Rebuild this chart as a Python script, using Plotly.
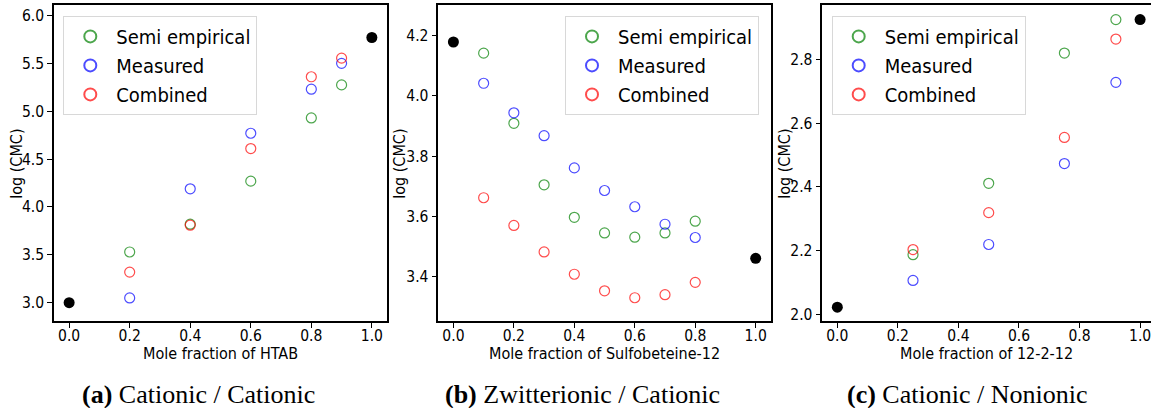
import plotly.graph_objects as go

# ---------------- data ----------------
# Panel (a) Cationic / Cationic
a_x = [0.2, 0.4, 0.6, 0.8, 0.9]
a_semi = [3.53, 3.82, 4.27, 4.93, 5.275]
a_meas = [3.05, 4.19, 4.77, 5.23, 5.50]
a_comb = [3.32, 3.81, 4.61, 5.36, 5.555]
a_pure_x = [0.0, 1.0]
a_pure_y = [3.0, 5.77]

# Panel (b) Zwitterionic / Cationic
b_x = [0.1, 0.2, 0.3, 0.4, 0.5, 0.6, 0.7, 0.8]
b_semi = [4.142, 3.909, 3.705, 3.597, 3.545, 3.531, 3.545, 3.584]
b_meas = [4.042, 3.944, 3.868, 3.761, 3.686, 3.632, 3.574, 3.530]
b_comb = [3.662, 3.570, 3.482, 3.408, 3.353, 3.330, 3.340, 3.381]
b_pure_x = [0.0, 1.0]
b_pure_y = [4.179, 3.461]

# Panel (c) Cationic / Nonionic
c_x = [0.25, 0.5, 0.75, 0.92]
c_semi = [2.187, 2.411, 2.820, 2.925]
c_meas = [2.106, 2.219, 2.473, 2.728]
c_comb = [2.203, 2.319, 2.555, 2.864]
c_pure_x = [0.0, 1.0]
c_pure_y = [2.022, 2.925]

x_ticks = [0.0, 0.2, 0.4, 0.6, 0.8, 1.0]
a_yticks = [3.0, 3.5, 4.0, 4.5, 5.0, 5.5, 6.0]
b_yticks = [3.4, 3.6, 3.8, 4.0, 4.2]
c_yticks = [2.0, 2.2, 2.4, 2.6, 2.8]

x_titles = ["Mole fraction of HTAB", "Mole fraction of Sulfobeteine-12", "Mole fraction of 12-2-12"]
captions = ["<b>(a)</b> Cationic / Cationic", "<b>(b)</b> Zwitterionic / Cationic", "<b>(c)</b> Cationic / Nonionic"]
series_names = ["Semi empirical", "Measured", "Combined"]

# ---------------- style ----------------
W, H = 1151, 408
FONT = "DejaVu Sans Condensed, Liberation Sans Narrow, DejaVu Sans, sans-serif"
SERIF = "Liberation Serif, DejaVu Serif, serif"
COLORS = ["rgba(0,128,0,0.7)", "rgba(0,0,255,0.7)", "rgba(255,0,0,0.7)"]

# plot boxes in pixels (left, right, top, bottom)
boxes = [(54, 387, 5, 323.3), (438.3, 770.8, 5, 323.3), (822.3, 1151, 5, 323.3)]
xranges = [[-0.05, 1.05], [-0.05, 1.05], [-0.0496, 1.036]]
yranges = [[2.81, 6.11], [3.253, 4.302], [1.979, 2.971]]
ytick_sets = [a_yticks, b_yticks, c_yticks]
ytitle_x = [17, 400, 785]
legend_x = [63.3, 565, 831.7]

panels = [
    (a_x, a_semi, a_meas, a_comb, a_pure_x, a_pure_y),
    (b_x, b_semi, b_meas, b_comb, b_pure_x, b_pure_y),
    (c_x, c_semi, c_meas, c_comb, c_pure_x, c_pure_y),
]

fig = go.Figure()
annotations = []
layout = {}

for i, (px, s, m, c, pux, puy) in enumerate(panels):
    n = "" if i == 0 else str(i + 1)
    xa, ya = "x" + n, "y" + n
    leg = "legend" + n
    for name, vals, col in zip(series_names, [s, m, c], COLORS):
        fig.add_trace(go.Scatter(
            x=px, y=vals, mode="markers", name=name, xaxis=xa, yaxis=ya, legend=leg,
            marker=dict(symbol="circle-open", size=10, color=col, line=dict(width=1.2)),
        ))
    fig.add_trace(go.Scatter(
        x=pux, y=puy, mode="markers", showlegend=False, xaxis=xa, yaxis=ya,
        marker=dict(symbol="circle", size=11, color="black"),
    ))

    l, r, t, b = boxes[i]
    layout["xaxis" + n] = dict(
        domain=[l / W, min(r / W, 1.0)], range=xranges[i], anchor=ya,
        tickvals=x_ticks, ticktext=[f"{v:.1f}" for v in x_ticks],
        ticks="outside", ticklen=5, tickwidth=1, tickcolor="black",
        showline=True, linecolor="black", linewidth=1.5, mirror=True,
        showgrid=False, zeroline=False, ticklabeloverflow="allow",
        ticklabelstandoff=-5,
        tickfont=dict(family=FONT, size=15.5, color="black"),
    )
    layout["yaxis" + n] = dict(
        domain=[1 - b / H, 1 - t / H], range=yranges[i], anchor=xa,
        tickvals=ytick_sets[i], ticktext=[f"{v:.1f}" for v in ytick_sets[i]],
        ticks="outside", ticklen=5, tickwidth=1, tickcolor="black",
        showline=True, linecolor="black", linewidth=1.5, mirror=(i != 2),
        showgrid=False, zeroline=False,
        tickfont=dict(family=FONT, size=15.5, color="black"),
    )
    layout[leg] = dict(
        x=legend_x[i] / W, y=1 - 16 / H, xanchor="left", yanchor="top",
        bgcolor="white", bordercolor="#d8d8d8", borderwidth=1,
        font=dict(family=FONT, size=20, color="black"),
        itemsizing="constant", itemwidth=42, tracegroupgap=0,
    )
    # axis titles
    annotations.append(dict(
        text=x_titles[i], x=(l + min(r, W)) / 2 / W, y=1 - 356 / H, xref="paper", yref="paper",
        showarrow=False, xanchor="center", yanchor="middle",
        font=dict(family=FONT, size=16, color="black"),
    ))
    annotations.append(dict(
        text="log (CMC)", x=ytitle_x[i] / W, y=1 - 165 / H, xref="paper", yref="paper",
        showarrow=False, xanchor="center", yanchor="middle", textangle=-90,
        font=dict(family=FONT, size=16, color="black"),
    ))

# captions
cap_x = [198, 582, 967]
for cx, txt in zip(cap_x, captions):
    annotations.append(dict(
        text=txt, x=cx / W, y=1 - 397 / H, xref="paper", yref="paper",
        showarrow=False, xanchor="center", yanchor="middle",
        font=dict(family=SERIF, size=26, color="black"),
    ))

fig.update_layout(
    width=W, height=H,
    margin=dict(l=0, r=0, t=0, b=0),
    paper_bgcolor="white", plot_bgcolor="white",
    annotations=annotations,
    **layout,
)

fig.write_html(
    "out.html",
    config={"displayModeBar": False},
    post_script="document.body.style.margin='0';document.body.style.overflow='hidden';",
)
